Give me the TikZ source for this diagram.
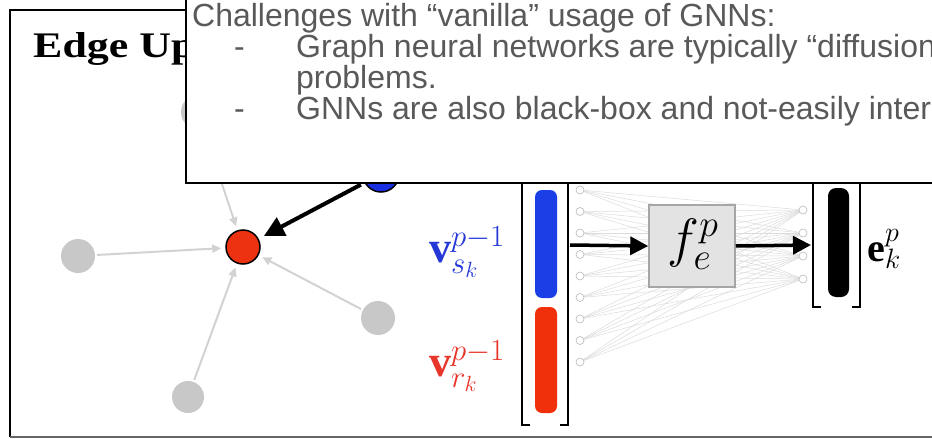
\RequirePackage{fix-cm}
\documentclass[tikz,border=0pt]{standalone}
\usepackage{fontspec}
\setmainfont{Liberation Serif}
\newfontfamily\arialf{Liberation Sans}
\usetikzlibrary{arrows.meta}
\definecolor{txtgray}{HTML}{595959}
\definecolor{nodegray}{HTML}{C8C8C8}
\definecolor{arrgray}{HTML}{D2D2D2}
\definecolor{rednode}{HTML}{EC3210}
\definecolor{bluenode}{HTML}{1A30E0}
\definecolor{barblue}{HTML}{1B3FE6}
\definecolor{barred}{HTML}{F0300A}
\definecolor{lblblue}{HTML}{2438D8}
\definecolor{lblred}{HTML}{E8352A}
\tikzset{
  graynode/.style={circle, fill=nodegray, minimum size=34pt, inner sep=0pt},
  grayarrow/.style={draw=arrgray, line width=2pt, -{Triangle[length=9pt,width=8pt]}, shorten >=4pt, shorten <=2pt},
  bigarrow/.style={draw=black, line width=4pt, -{Triangle[length=20pt,width=20pt]}},
  smallcirc/.style={circle, draw=gray!55, line width=0.6pt, minimum size=8pt, inner sep=0pt, fill=white},
  fanline/.style={draw=gray!28, line width=0.5pt},
  bracketline/.style={draw=black, line width=2.5pt},
  flowarrow/.style={line width=3.5pt, -{Triangle[length=18pt,width=18pt]}},
  mathlabel/.style={inner sep=0pt, font=\fontsize{44}{48}\selectfont},
  overlaytext/.style={font=\arialf\fontsize{32}{36}\selectfont, text=txtgray, anchor=base west, inner sep=0pt},
}
\begin{document}
\begin{tikzpicture}[x=1pt,y=-1pt]
\clip (0,0) rectangle (932,439);
\useasboundingbox (0,0) rectangle (932,439);
% outer frame
\draw[line width=2pt] (10,437) -- (10,10) -- (940,10);
\draw[line width=2pt, draw=gray!80!black] (10,437) -- (940,437);
% title (partly hidden)
\node[anchor=base west, inner sep=0pt, font=\bfseries\fontsize{36}{40}\selectfont, xscale=1.22, transform shape] (title) at (33,57) {Edge Up};
% graph
\node[graynode] (gup) at (198,112) {};
\node[graynode] (gleft) at (78,256) {};
\node[graynode] (gright) at (378,318) {};
\node[graynode, minimum size=32pt] (gbot) at (188,397) {};
\node[circle, fill=rednode, draw=black, line width=1.5pt, minimum size=34pt, inner sep=0pt] (red) at (243,247) {};
\node[circle, fill=bluenode, draw=black, line width=1.5pt, minimum size=36pt, inner sep=0pt] (blue) at (381,174) {};
\draw[grayarrow] (gup) -- (red);
\draw[grayarrow] (gleft) -- (red);
\draw[grayarrow] (gright) -- (red);
\draw[grayarrow] (gbot) -- (red);
\draw[bigarrow, shorten <=4pt, shorten >=6pt] (blue) -- (red);
% small input / output circles and fan lines
\foreach \i in {0,...,8} {
  \coordinate (inc\i) at (580,{190+21.5*\i});
}
\foreach \j in {0,...,3} {
  \coordinate (outc\j) at (803,{210+23*\j});
}
\foreach \i in {0,...,8} {
  \foreach \j in {0,...,3} {
    \draw[fanline] (inc\i) -- (outc\j);
  }
}
\foreach \i in {0,...,8} {
  \node[smallcirc] (in\i) at (inc\i) {};
}
\foreach \j in {0,...,3} {
  \node[smallcirc] (out\j) at (outc\j) {};
}
% input vector with brackets
\draw[bracketline] (530,425) -- (522,425) -- (522,175);
\draw[bracketline] (560,425) -- (568,425) -- (568,175);
\fill[barblue, rounded corners=7pt] (535,190) rectangle (557,298);
\fill[barred, rounded corners=7pt] (535,307) rectangle (557,413);
\coordinate (vecin) at (570,245);
% function box
\node[draw=gray!70, fill=gray!22, line width=1.5pt, minimum width=86pt, minimum height=82pt, inner sep=0pt] (fbox) at (692,246) {};
\node[inner sep=0pt, font=\fontsize{54}{60}\selectfont] (flabel) at (693,244) {$f_e^p$};
% output vector
\draw[bracketline] (821,307) -- (813,307) -- (813,175);
\draw[bracketline] (852,307) -- (860,307) -- (860,175);
\fill[black, rounded corners=8pt] (828,188) rectangle (849,297);
\coordinate (vecout) at (811,245);
% arrows
\draw[flowarrow] (vecin) -- (fbox.west);
\draw[flowarrow] (fbox.east) -- (vecout);
% labels
\node[mathlabel, text=lblblue] (lblv) at (467,252) {$\mathbf{v}_{s_k}^{p-1}$};
\node[mathlabel, text=lblred] (lblr) at (467,366) {$\mathbf{v}_{r_k}^{p-1}$};
\node[mathlabel, font=\fontsize{40}{44}\selectfont] (lble) at (884,249) {$\mathbf{e}_k^p$};
% overlay box with text
\draw[fill=white, line width=2pt] (186,-5) rectangle (945,183);
\node[overlaytext] (t1) at (192,26) {Challenges with “vanilla” usage of GNNs:};
\node[overlaytext] (d1) at (234,57) {-};
\node[overlaytext] (t2) at (296,57) {Graph neural networks are typically “diffusion};
\node[overlaytext] (t3) at (296,88) {problems.};
\node[overlaytext] (d2) at (234,119) {-};
\node[overlaytext] (t4) at (296,119) {GNNs are also black-box and not-easily inter};
\end{tikzpicture}
\end{document}
